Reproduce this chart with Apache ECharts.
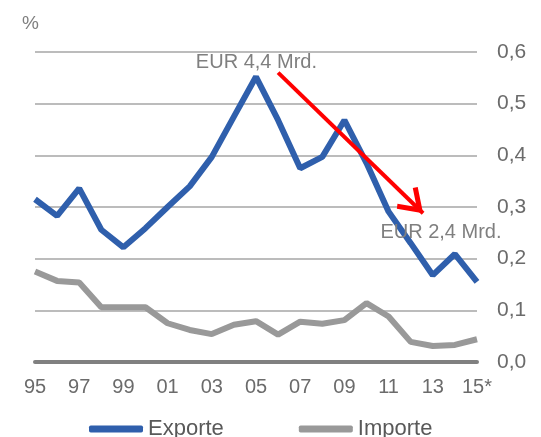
<!DOCTYPE html>
<html>
<head>
<meta charset="utf-8">
<script src="https://cdn.jsdelivr.net/npm/echarts@6/dist/echarts.min.js"></script>
<style>
html,body{margin:0;padding:0;background:#fff;}
#chart{width:541px;height:437px;}
</style>
</head>
<body>
<div id="chart"></div>
<script>
const years = [1995,1996,1997,1998,1999,2000,2001,2002,2003,2004,2005,2006,2007,2008,2009,2010,2011,2012,2013,2014,2015];
const xTickLabels = ['95','97','99','01','03','05','07','09','11','13','15*'];
const exporte = [0.315,0.283,0.336,0.256,0.222,0.259,0.300,0.340,0.397,0.475,0.552,0.468,0.375,0.397,0.468,0.385,0.291,0.230,0.168,0.209,0.155];
const importe = [0.175,0.157,0.154,0.106,0.106,0.106,0.075,0.062,0.054,0.072,0.079,0.053,0.078,0.074,0.081,0.114,0.088,0.039,0.031,0.033,0.044];
const arrowX = [2006.0, 2012.56];
const arrowY = [0.560, 0.288];
const noteText = ['EUR 4,4 Mrd.', 'EUR 2,4 Mrd.'];
const noteX = [2005.02, 2013.37];
const noteY = [0.579, 0.250];

const FONT = "'Liberation Sans', Arial, sans-serif";
const chevron = 'path://M15,-25 L15,-25 M15,0 L30,22 L26,25 L15,9 L4,25 L0,22 Z';

const chart = echarts.init(document.getElementById('chart'));
chart.setOption({
  animation: false,
  backgroundColor: '#ffffff',
  textStyle: {fontFamily: FONT},
  title: {
    text: '%', left: 17, top: 9,
    textStyle: {fontSize: 19, fontWeight: 'normal', color: '#7f7f7f', fontFamily: FONT}
  },
  grid: {left: 35, right: 64, top: 52, bottom: 75, containLabel: false},
  legend: {
    data: ['Exporte', 'Importe'],
    left: 84, top: 413,
    icon: 'roundRect', itemWidth: 54, itemHeight: 7, itemGap: 75,
    textStyle: {fontSize: 22, color: '#595959', fontFamily: FONT}
  },
  xAxis: {
    type: 'value', min: 1995, max: 2015, interval: 2,
    axisLine: {show: true, lineStyle: {color: '#808080', width: 4}},
    axisTick: {show: false},
    splitLine: {show: false},
    axisLabel: {
      margin: 15, fontSize: 20, color: '#6b6b6b', fontFamily: FONT,
      formatter: v => xTickLabels[Math.round((v - years[0]) / 2)]
    }
  },
  yAxis: {
    type: 'value', position: 'right', min: 0, max: 0.6, interval: 0.1,
    axisLine: {show: false}, axisTick: {show: false},
    splitLine: {lineStyle: {color: '#a6a6a6', width: 1.5}},
    axisLabel: {
      margin: 20, fontSize: 21, color: '#6b6b6b', fontFamily: FONT,
      formatter: v => v.toFixed(1).replace('.', ',')
    }
  },
  series: [
    {
      name: 'Importe', type: 'line', symbol: 'none',
      data: years.map((y, i) => [y, importe[i]]),
      lineStyle: {color: '#999999', width: 6},
      itemStyle: {color: '#999999'}
    },
    {
      name: 'Exporte', type: 'line', symbol: 'none',
      data: years.map((y, i) => [y, exporte[i]]),
      lineStyle: {color: '#2f5fac', width: 6},
      itemStyle: {color: '#2f5fac'},
      markLine: {
        silent: true,
        symbol: ['none', chevron],
        symbolSize: [30, 50],
        lineStyle: {color: '#ff0000', width: 4, type: 'solid'},
        label: {show: false},
        data: [[{coord: [arrowX[0], arrowY[0]]}, {coord: [arrowX[1], arrowY[1]]}]]
      },
      markPoint: {
        silent: true,
        symbol: 'circle', symbolSize: 1,
        itemStyle: {color: 'rgba(0,0,0,0)'},
        label: {
          show: true, position: 'inside', fontSize: 20, color: '#7f7f7f', fontFamily: FONT,
          formatter: p => p.name
        },
        data: noteText.map((t, i) => ({name: t, coord: [noteX[i], noteY[i]]}))
      }
    }
  ]
});
</script>
</body>
</html>
